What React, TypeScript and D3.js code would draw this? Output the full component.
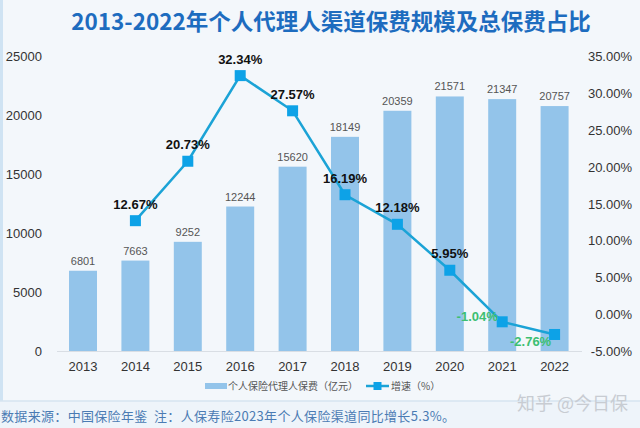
import React from "react";
import * as d3 from "d3";

const years = ["2013", "2014", "2015", "2016", "2017", "2018", "2019", "2020", "2021", "2022"];
const premiums = [6801, 7663, 9252, 12244, 15620, 18149, 20359, 21571, 21347, 20757];
const growthYears = ["2014", "2015", "2016", "2017", "2018", "2019", "2020", "2021", "2022"];
const growth = [12.67, 20.73, 32.34, 27.57, 16.19, 12.18, 5.95, -1.04, -2.76];
const leftTicks = [0, 5000, 10000, 15000, 20000, 25000];
const rightTicks = [-5, 0, 5, 10, 15, 20, 25, 30, 35];

const titleText = "2013-2022年个人代理人渠道保费规模及总保费占比";
const legendBar = "个人保险代理人保费（亿元）";
const legendLine = "增速（%）";
const sourceText = "数据来源：中国保险年鉴  注：人保寿险2023年个人保险渠道同比增长5.3%。";
const watermark = "知乎 @今日保";

const W = 640;
const H = 428;
const LAT = "'Liberation Sans', Arial, sans-serif";
const CJK = "'Noto Sans CJK SC', sans-serif";

export default function App() {
  const x = d3
    .scaleBand<string>()
    .domain(years)
    .range([44.6, 593])
    .paddingInner(0.466)
    .paddingOuter(0.466);
  const yL = d3.scaleLinear().domain([0, 25000]).range([351, 56]);
  const yR = d3.scaleLinear().domain([-5, 35]).range([351, 56]);
  const cx = (yr: string) => (x(yr) as number) + x.bandwidth() / 2;

  const pts = growthYears.map((yr, i) => [cx(yr), yR(growth[i])] as [number, number]);
  const line = d3.line()(pts) || "";

  const labelOffset = (i: number): [number, number] => {
    const g = growth[i];
    if (g < 0) {
      if (i === growth.length - 1) return [-24, 12];
      return [-25, -1];
    }
    return [0, -12];
  };

  return (
    <svg
      width={W}
      height={H}
      style={{ position: "absolute", left: 0, top: 0, display: "block" }}
      xmlns="http://www.w3.org/2000/svg"
    >
      <rect x={0} y={0} width={W} height={H} fill="#eef4fa" />
      <rect x={3} y={0} width={W - 3} height={401} fill="#f3f7fb" />
      <rect x={0} y={0} width={3} height={401} fill="#cfe3f3" />
      <line x1={0} x2={W} y1={401} y2={401} stroke="#d6e4f0" strokeWidth={1.5} />

      <text
        x={331}
        y={30}
        textAnchor="middle"
        fontFamily={CJK}
        fontWeight={700}
        fontSize={22.5}
        fill="#1d6cbf"
      >
        {titleText}
      </text>

      {/* baseline */}
      <line x1={57} x2={582} y1={yL(0) + 0.5} y2={yL(0) + 0.5} stroke="#d9dee4" strokeWidth={1} />

      {/* left axis */}
      {leftTicks.map((t) => (
        <text
          key={"l" + t}
          x={42}
          y={yL(t) + 5}
          textAnchor="end"
          fontFamily={LAT}
          fontSize={13}
          fill="#333"
        >
          {t}
        </text>
      ))}
      {/* right axis */}
      {rightTicks.map((t) => (
        <text
          key={"r" + t}
          x={632}
          y={yR(t) + 5}
          textAnchor="end"
          fontFamily={LAT}
          fontSize={13}
          fill="#333"
        >
          {t.toFixed(2) + "%"}
        </text>
      ))}

      {/* bars */}
      {years.map((yr, i) => (
        <g key={"b" + yr}>
          <rect
            x={x(yr)}
            y={yL(premiums[i])}
            width={x.bandwidth()}
            height={yL(0) - yL(premiums[i])}
            fill="#93c4ea"
          />
          <text
            x={cx(yr)}
            y={yL(premiums[i]) - 6}
            textAnchor="middle"
            fontFamily={LAT}
            fontSize={11}
            fill="#555"
          >
            {premiums[i]}
          </text>
          <text
            x={cx(yr)}
            y={371}
            textAnchor="middle"
            fontFamily={LAT}
            fontSize={13}
            fill="#333"
          >
            {yr}
          </text>
        </g>
      ))}

      {/* line */}
      <path d={line} fill="none" stroke="#1ba3d6" strokeWidth={2.5} />
      {pts.map(([px, py], i) => (
        <rect key={"m" + i} x={px - 5.5} y={py - 5.5} width={11} height={11} fill="#0da2e7" />
      ))}
      {pts.map(([px, py], i) => {
        const [dx, dy] = labelOffset(i);
        const neg = growth[i] < 0;
        return (
          <text
            key={"gl" + i}
            x={px + dx}
            y={py + dy}
            textAnchor="middle"
            fontFamily={LAT}
            fontWeight={700}
            fontSize={13}
            fill={neg ? "#3cbf72" : "#111"}
          >
            {growth[i].toFixed(2) + "%"}
          </text>
        );
      })}

      {/* legend */}
      <rect x={205} y={383} width={22} height={6} fill="#93c4ea" />
      <text x={228} y={390} fontFamily={CJK} fontSize={10} fill="#555">
        {legendBar}
      </text>
      <line x1={366} x2={389} y1={386} y2={386} stroke="#1ba3d6" strokeWidth={2.5} />
      <rect x={373.5} y={382} width={8} height={8} fill="#0da2e7" />
      <text x={391} y={390} fontFamily={CJK} fontSize={10} fill="#555">
        {legendLine}
      </text>

      {/* watermark */}
      <text x={628} y={410} textAnchor="end" fontFamily={CJK} fontSize={18} fill="#c8ccd2">
        {watermark}
      </text>

      {/* source */}
      <text
        x={1}
        y={421}
        fontFamily={CJK}
        fontSize={13}
        fill="#4b7bb3"
        textLength={454}
        lengthAdjust="spacing"
        style={{ whiteSpace: "pre" }}
      >
        {sourceText}
      </text>
    </svg>
  );
}
